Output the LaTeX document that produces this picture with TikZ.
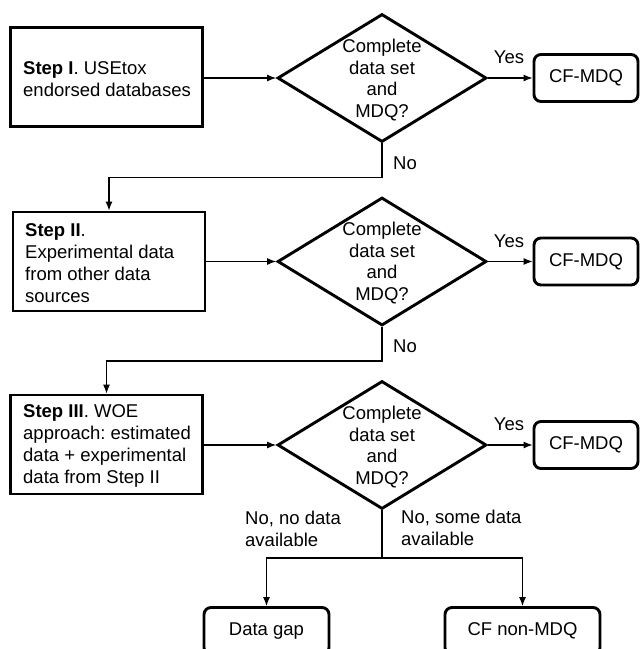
\documentclass[tikz,border=0pt]{standalone}
\usepackage{fontspec}
\setmainfont{Liberation Sans}
\usetikzlibrary{shapes.geometric,arrows.meta}
\frenchspacing
\begin{document}
\begin{tikzpicture}[x=1pt,y=-1pt,
  font=\fontsize{18.5}{21.8}\selectfont\frenchspacing,
  stepbox/.style={draw,line width=2.9pt,minimum width=192pt,minimum height=99pt,inner sep=0pt},
  steptext/.style={anchor=west,align=left,inner sep=0pt},
  decision/.style={diamond,draw,line width=2.9pt,minimum width=209pt,minimum height=128pt,inner sep=0pt},
  qtext/.style={align=center,inner sep=0pt},
  result/.style={draw,rounded corners=7pt,line width=2.9pt,minimum width=104pt,minimum height=47pt,inner sep=0pt},
  conn/.style={line width=1.1pt,-{Latex[length=9pt,width=7pt]}},
  plain/.style={line width=1.1pt},
  lbl/.style={inner sep=0pt}]
\useasboundingbox (0,0) rectangle (641,649);
\clip (0,0) rectangle (641,649);

% Row 1
\node[stepbox] (s1) at (106.5,77) {};
\node[steptext] (t1) at (23,79) {\textbf{Step I}. USEtox\\endorsed databases};
\node[decision] (d1) at (382,78) {};
\node[qtext] (q1) at (382,80) {Complete\\data set\\and\\MDQ?};
\node[result] (r1) at (586,78) {CF-MDQ};
\draw[conn] (s1.east |- d1) -- (d1.west);
\draw[conn] (d1.east) -- (r1.west);
\node[lbl] (y1) at (509,57) {Yes};

% Row 2
\node[stepbox] (s2) at (109,261.5) {};
\node[steptext] (t2) at (25,263) {\textbf{Step II}.\\Experimental data\\from other data\\sources};
\node[decision] (d2) at (382,261.5) {};
\node[qtext] (q2) at (382,263) {Complete\\data set\\and\\MDQ?};
\node[result] (r2) at (586,261.5) {CF-MDQ};
\draw[conn] (s2.east |- d2) -- (d2.west);
\draw[conn] (d2.east) -- (r2.west);
\node[lbl] (y2) at (509,241) {Yes};
\draw[conn] (d1.south) -- ++(0,34) -| (s2.north);
\node[lbl] (n1) at (405,163) {No};

% Row 3
\node[stepbox] (s3) at (106.5,444.5) {};
\node[steptext] (t3) at (23,446) {\textbf{Step III}. WOE\\approach: estimated\\data + experimental\\data from Step II};
\node[decision] (d3) at (382,445) {};
\node[qtext] (q3) at (382,447) {Complete\\data set\\and\\MDQ?};
\node[result] (r3) at (586,445) {CF-MDQ};
\draw[conn] (s3.east |- d3) -- (d3.west);
\draw[conn] (d3.east) -- (r3.west);
\node[lbl] (y3) at (509,424) {Yes};
\draw[conn] (d2.south) -- ++(0,34) -| (s3.north);
\node[lbl] (n2) at (405,346) {No};

% Bottom
\node[result,minimum width=125pt] (gap) at (266.5,631) {Data gap};
\node[result,minimum width=155pt] (non) at (522.5,631) {CF non-MDQ};
\coordinate (split) at (382,558);
\draw[plain] (d3.south) -- (split);
\draw[conn] (split) -| (gap.north);
\draw[conn] (split) -| (non.north);
\node[steptext] (l1) at (245,529) {No, no data\\available};
\node[steptext] (l2) at (401,528) {No, some data\\available};
\end{tikzpicture}
\end{document}
